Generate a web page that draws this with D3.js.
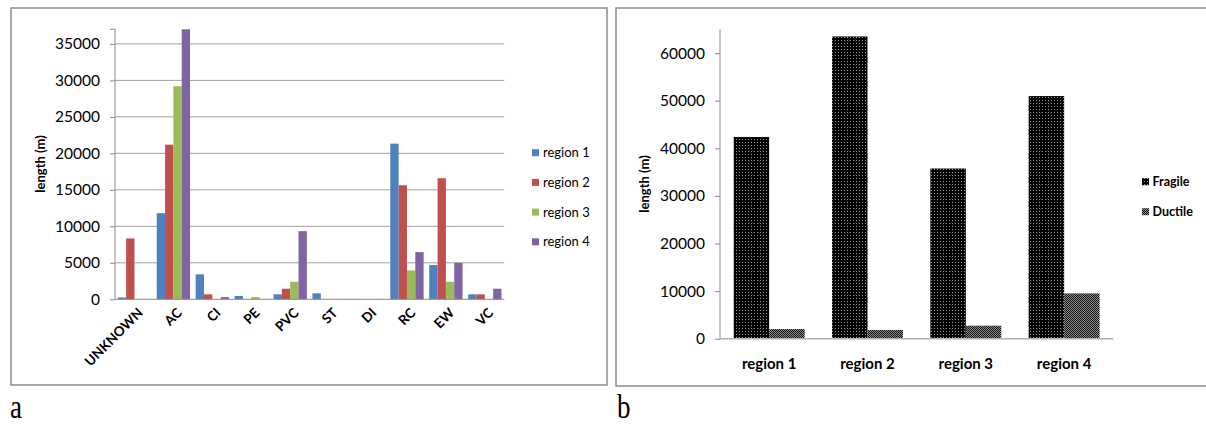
<!DOCTYPE html>
<html>
<head>
<meta charset="utf-8">
<script src="https://cdn.jsdelivr.net/npm/d3@7"></script>
<style>
  html, body { margin: 0; padding: 0; background: #fff; }
  svg { display: block; }
  text { font-family: Lato, "Liberation Sans", sans-serif; fill: #000; }
</style>
</head>
<body>
<svg id="fig" width="1206" height="427"></svg>
<script>
// ---- Panel a: pipe length by material and region ----
const materials = ["UNKNOWN", "AC", "CI", "PE", "PVC", "ST", "DI", "RC", "EW", "VC"];
const seriesNames = ["region 1", "region 2", "region 3", "region 4"];
const region1 = [250, 11800, 3420, 450, 680, 820, 0, 21330, 4690, 680];
const region2 = [8340, 21190, 680, 0, 1450, 0, 0, 15630, 16590, 680];
const region3 = [0, 29200, 0, 300, 2400, 0, 0, 3960, 2400, 0];
const region4 = [0, 37000, 300, 0, 9340, 0, 0, 6470, 5000, 1450];
const seriesColors = ["#4F81BD", "#C0504D", "#9BBB59", "#8064A2"];
const ticksA = [0, 5000, 10000, 15000, 20000, 25000, 30000, 35000];

// ---- Panel b: fragile vs ductile length by region ----
const regions = ["region 1", "region 2", "region 3", "region 4"];
const pipeTypes = ["Fragile", "Ductile"];
const fragile = [42370, 63500, 35750, 50970];
const ductile = [2030, 1830, 2730, 9520];
const ticksB = [0, 10000, 20000, 30000, 40000, 50000, 60000];

const svg = d3.select("#fig");
const frameColor = "#8a8a8a";
const axisColor = "#8a8a8a";

// patterns for panel b
const defs = svg.append("defs");
const pf = defs.append("pattern").attr("id", "patFragile")
  .attr("patternUnits", "userSpaceOnUse").attr("width", 3).attr("height", 3);
pf.append("rect").attr("width", 3).attr("height", 3).attr("fill", "#000");
pf.append("rect").attr("x", 1).attr("y", 1).attr("width", 1).attr("height", 1).attr("fill", "#9a9a9a");

const pd = defs.append("pattern").attr("id", "patDuctile")
  .attr("patternUnits", "userSpaceOnUse").attr("width", 2).attr("height", 2);
pd.append("rect").attr("width", 2).attr("height", 2).attr("fill", "#111");
pd.append("rect").attr("x", 1).attr("y", 0).attr("width", 1).attr("height", 1).attr("fill", "#8c8c8c");
pd.append("rect").attr("x", 0).attr("y", 1).attr("width", 1).attr("height", 1).attr("fill", "#8c8c8c");

// frames
svg.append("rect").attr("x", 11).attr("y", 8).attr("width", 596).attr("height", 377)
  .attr("fill", "none").attr("stroke", frameColor).attr("stroke-width", 1.5);
svg.append("rect").attr("x", 616).attr("y", 8).attr("width", 620).attr("height", 378)
  .attr("fill", "none").attr("stroke", frameColor).attr("stroke-width", 1.5);

// panel letters
svg.append("text").attr("transform", "translate(10,418) scale(1,1.25)").text("a")
  .style("font-family", "'Liberation Serif', serif").style("font-size", "27px");
svg.append("text").attr("transform", "translate(617,418) scale(1,1.25)").text("b")
  .style("font-family", "'Liberation Serif', serif").style("font-size", "27px");

// ================= Panel a =================
{
  const left = 115, right = 504.3, top = 29.3, bottom = 299.3;
  const data = [region1, region2, region3, region4];
  const y = d3.scaleLinear().domain([0, 37000]).range([bottom, top]);
  const x0 = d3.scaleBand().domain(materials).range([left, right]);
  const gap = 2.8;
  const x1 = d3.scaleBand().domain(seriesNames).range([gap, x0.bandwidth() - gap]);
  const g = svg.append("g");

  // gridlines
  g.append("g").selectAll("line").data(ticksA.filter(t => t > 0)).join("line")
    .attr("x1", left).attr("x2", right)
    .attr("y1", d => y(d)).attr("y2", d => y(d))
    .attr("stroke", "#a0a0a0").attr("stroke-width", 1);

  // bars
  seriesNames.forEach((s, si) => {
    g.append("g").selectAll("rect").data(materials).join("rect")
      .attr("x", m => x0(m) + x1(s))
      .attr("width", x1.bandwidth())
      .attr("y", (m, i) => y(data[si][i]))
      .attr("height", (m, i) => bottom - y(data[si][i]))
      .attr("fill", seriesColors[si]);
  });

  // y axis
  const yAxis = d3.axisLeft(y).tickValues(ticksA).tickSize(5).tickPadding(10).tickFormat(d3.format("d"));
  const ya = g.append("g").attr("transform", `translate(${left},0)`).call(yAxis);
  ya.select(".domain").attr("stroke", axisColor).attr("d", `M-5,${top}H0V${bottom}`);
  ya.selectAll(".tick line").attr("stroke", axisColor);
  ya.selectAll(".tick text").style("font-size", "15.5px").style("font-family", "Lato, sans-serif").attr("fill", "#222");

  // x axis baseline
  g.append("line").attr("x1", left).attr("x2", right).attr("y1", bottom).attr("y2", bottom)
    .attr("stroke", axisColor).attr("stroke-width", 1);

  // x labels rotated
  g.append("g").selectAll("text").data(materials).join("text")
    .attr("transform", m => `translate(${x0(m) + x0.bandwidth() / 2 + 6},${bottom + 11}) rotate(-45)`)
    .attr("text-anchor", "end")
    .attr("dy", "0.35em")
    .style("font-size", "13.5px").style("font-weight", "bold")
    .text(m => m);

  // y title
  g.append("text").attr("transform", `translate(45,164) rotate(-90)`)
    .attr("text-anchor", "middle")
    .style("font-size", "13px").style("font-weight", "bold")
    .text("length (m)");

  // legend
  const lg = g.append("g");
  seriesNames.forEach((s, i) => {
    const cy = 152.7 + i * 29.7;
    lg.append("rect").attr("x", 532).attr("y", cy - 3.5).attr("width", 7).attr("height", 7).attr("fill", seriesColors[i]);
    lg.append("text").attr("x", 543).attr("y", cy).attr("dy", "0.35em")
      .style("font-size", "13px").text(s);
  });
}

// ================= Panel b =================
{
  const left = 720, right = 1113.3, top = 29.3, bottom = 338.7;
  const data = [fragile, ductile];
  const fills = ["url(#patFragile)", "url(#patDuctile)"];
  const y = d3.scaleLinear().domain([0, 65000]).range([bottom, top]);
  const x0 = d3.scaleBand().domain(regions).range([left, right]);
  const gap = 13.7;
  const x1 = d3.scaleBand().domain(pipeTypes).range([gap, x0.bandwidth() - gap]);
  const g = svg.append("g");

  pipeTypes.forEach((p, pi) => {
    g.append("g").selectAll("rect").data(regions).join("rect")
      .attr("x", r => x0(r) + x1(p))
      .attr("width", x1.bandwidth())
      .attr("y", (r, i) => y(data[pi][i]))
      .attr("height", (r, i) => bottom - y(data[pi][i]))
      .attr("fill", fills[pi]);
  });

  const yAxis = d3.axisLeft(y).tickValues(ticksB).tickSize(5).tickPadding(10).tickFormat(d3.format("d"));
  const ya = g.append("g").attr("transform", `translate(${left},0)`).call(yAxis);
  ya.select(".domain").attr("stroke", axisColor).attr("d", `M0,${top}V${bottom}`);
  ya.selectAll(".tick line").attr("stroke", axisColor);
  ya.selectAll(".tick text").style("font-size", "15.5px").style("font-family", "Lato, sans-serif").attr("fill", "#222");

  g.append("line").attr("x1", left).attr("x2", right).attr("y1", bottom).attr("y2", bottom)
    .attr("stroke", "#b0b0b0").attr("stroke-width", 1.5);

  g.append("g").selectAll("text").data(regions).join("text")
    .attr("x", r => x0(r) + x0.bandwidth() / 2)
    .attr("y", 363.5).attr("dy", "0.35em")
    .attr("text-anchor", "middle")
    .style("font-size", "15px").style("font-weight", "bold")
    .text(r => r);

  g.append("text").attr("transform", `translate(649,184) rotate(-90)`)
    .attr("text-anchor", "middle")
    .style("font-size", "13px").style("font-weight", "bold")
    .text("length (m)");

  pipeTypes.forEach((p, i) => {
    const cy = 181.7 + i * 30;
    g.append("rect").attr("x", 1142).attr("y", cy - 3.5).attr("width", 7).attr("height", 7).attr("fill", fills[i]);
    g.append("text").attr("x", 1152.5).attr("y", cy).attr("dy", "0.35em")
      .style("font-size", "12.5px").style("font-weight", "bold").text(p);
  });
}
</script>
</body>
</html>
